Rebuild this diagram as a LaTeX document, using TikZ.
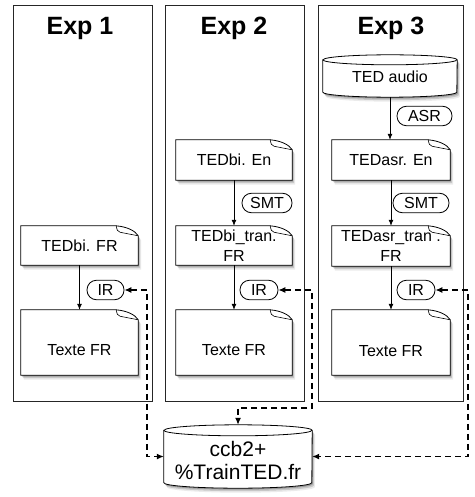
\documentclass[tikz,border=0pt]{standalone}
\usepackage{fontspec}
\setmainfont{Liberation Sans}
\usetikzlibrary{arrows.meta,shadows}
\pgfdeclarelayer{bg}
\pgfsetlayers{bg,main}
\tikzset{
  base/.style={font=\fontsize{16}{19.5}\selectfont},
  softshadow/.style={
    drop shadow={shadow xshift=1pt,shadow yshift=-1.5pt,opacity=.22,fill=black},
    drop shadow={shadow xshift=2pt,shadow yshift=-3pt,opacity=.15,fill=black},
    drop shadow={shadow xshift=3pt,shadow yshift=-4.5pt,opacity=.08,fill=black}},
  docline/.style={fill=white,draw=black,line width=0.8pt,softshadow},
  doc/.style={base,draw=none,inner sep=0pt,minimum width=117pt,minimum height=40pt,align=center},
  cyl/.style={draw=none,inner sep=0pt,align=center},
  pill/.style={base,draw=black,line width=0.8pt,fill=white,rounded corners=9.5pt,
    minimum height=19.5pt,inner sep=0pt},
  panel/.style={draw=black!85,line width=0.8pt,inner sep=0pt,minimum height=396pt},
  title/.style={font=\bfseries\fontsize{25}{30}\selectfont,anchor=base},
  arr/.style={-{Latex[length=6pt,width=5pt]},line width=0.8pt},
  dasharr/.style={{Latex[length=7pt,width=6pt]}-{Latex[length=7pt,width=6pt]},
    line width=1.2pt,dash pattern=on 6pt off 4pt},
}
\newcommand\docshape[1]{%
  \path[docline] (#1.north west) -- ([xshift=-22pt]#1.north east)
    .. controls ([xshift=-11pt,yshift=-1pt]#1.north east) and ([xshift=-3pt,yshift=-5pt]#1.north east) ..
    ([yshift=-10pt]#1.north east) -- (#1.south east) -- (#1.south west) -- cycle;
  \draw[line width=0.6pt] ([xshift=-22pt]#1.north east)
    .. controls ([xshift=-21pt,yshift=-5pt]#1.north east) .. ([xshift=-18pt,yshift=-6.5pt]#1.north east)
    -- ([yshift=-10pt]#1.north east);
}
\newcommand\cylshape[3]{%
  \path[docline] ([yshift=-#3]#1.north west) -- ([yshift=#3]#1.south west)
    arc[start angle=180,end angle=360,x radius=#2,y radius=#3]
    -- ([yshift=-#3]#1.north east)
    arc[start angle=0,end angle=180,x radius=#2,y radius=#3] -- cycle;
  \draw[line width=0.8pt] ([yshift=-#3]#1.north west)
    arc[start angle=180,end angle=360,x radius=#2,y radius=#3];
}
\begin{document}
\begin{tikzpicture}[x=1pt,y=-1pt]
\useasboundingbox (0,0) rectangle (474,497);

% panels
\node[panel,minimum width=139pt] (p1) at (82.5,203) {};
\node[panel,minimum width=139pt] (p2) at (234.5,203) {};
\node[panel,minimum width=145pt] (p3) at (390.5,203) {};
\node[title] (t1) at (80,35) {Exp 1};
\node[title] (t2) at (234,35) {Exp 2};
\node[title] (t3) at (391,35) {Exp 3};

% Exp 1
\node[doc,minimum height=39pt] (d1a) at (79.5,245.5) {TEDbi. FR};
\node[doc,minimum height=65pt] (d1b) at (79.5,342.5) {\raisebox{-8pt}[\height][\depth]{Texte FR}};
\node[pill,minimum width=37pt] (ir1) at (105.5,290) {IR};

% Exp 2
\node[doc,minimum width=116pt] (d2a) at (234,160) {TEDbi. En};
\node[doc,minimum width=116pt,minimum height=39pt] (d2b) at (234,245.5) {TEDbi\_tran.\\FR};
\node[doc,minimum width=116pt,minimum height=65pt] (d2c) at (234,342.5) {\raisebox{-8pt}[\height][\depth]{Texte FR}};
\node[pill,minimum width=50pt] (smt2) at (267,203) {SMT};
\node[pill,minimum width=38pt] (ir2) at (259,290) {IR};

% Exp 3
\node[cyl,base,minimum width=134pt,minimum height=42pt] (c3) at (390,76) {\raisebox{-1pt}[\height][\depth]{TED audio}};
\node[doc,minimum width=118pt] (d3a) at (391,160) {TEDasr. En};
\node[doc,minimum width=118pt,minimum height=40pt] (d3b) at (391,246) {TEDasr\_tran .\\FR};
\node[doc,minimum width=118pt,minimum height=65pt] (d3c) at (391,342.5) {\raisebox{-9pt}[\height][\depth]{Texte FR}};
\node[pill,minimum width=55pt] (asr3) at (424.5,116) {ASR};
\node[pill,minimum width=56pt] (smt3) at (421,203) {SMT};
\node[pill,minimum width=38pt] (ir3) at (416,290) {IR};

% database
\node[cyl,font=\fontsize{21}{23}\selectfont,minimum width=148pt,minimum height=63pt] (db) at (238,456.5)
  {\raisebox{-7pt}[\height][\depth]{\begin{tabular}{@{}c@{}}ccb2+\\\%TrainTED.fr\end{tabular}}};

\begin{pgfonlayer}{bg}
  \fill[white] (0,0) rectangle (474,497);
  \docshape{d1a}\docshape{d1b}
  \docshape{d2a}\docshape{d2b}\docshape{d2c}
  \docshape{d3a}\docshape{d3b}\docshape{d3c}
  \cylshape{c3}{67pt}{5pt}
  \cylshape{db}{74pt}{5.5pt}
\end{pgfonlayer}

% solid arrows
\draw[arr] (d1a.south) -- (d1b.north);
\draw[arr] (d2a.south) -- (d2b.north);
\draw[arr] (d2b.south) -- (d2c.north);
\draw[arr] (c3.south) -- (c3.south |- d3a.north);
\draw[arr] (d3a.south) -- (d3b.north);
\draw[arr] (d3b.south) -- (d3c.north);

% dashed connectors
\coordinate (k1) at (147,290);
\coordinate (k2) at (312,290);
\coordinate (k2b) at (312,408);
\coordinate (k3) at (468,290);
\draw[dasharr] (ir1.east) -- (k1) |- (db.west);
\draw[dasharr] (ir2.east) -- (k2) -- (k2b) -| (db.north);
\draw[dasharr] (ir3.east) -- (k3) |- (db.east);
\end{tikzpicture}
\end{document}
